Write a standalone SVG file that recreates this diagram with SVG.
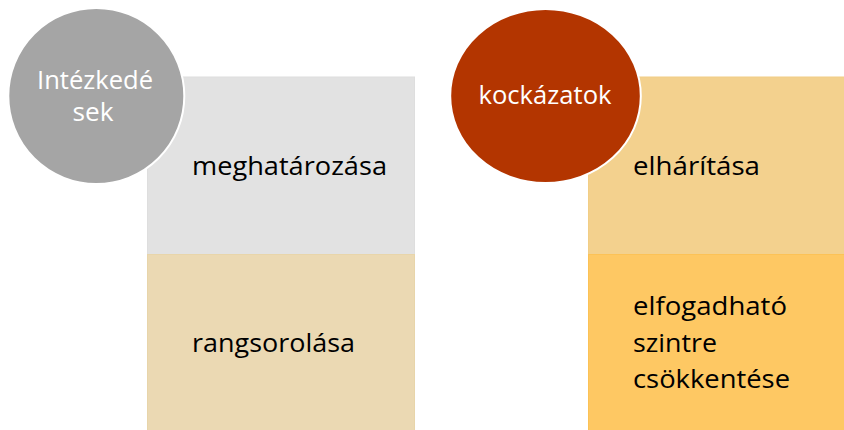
<svg xmlns="http://www.w3.org/2000/svg" width="844" height="430" viewBox="0 0 844 430">
<style>
text{font-family:"Open Sans","Noto Sans","Liberation Sans",sans-serif;font-size:25.5px}
.dark{fill:#000}
.light{fill:#fff}
.circ{stroke:#fff;stroke-width:2}
</style>
<rect width="844" height="430" fill="#fff"/>
<g id="connectors"/>
<g id="box-meghatarozasa">
<rect x="147.5" y="77" width="267" height="177.5" fill="#e2e2e2" stroke="#dedede" stroke-width="1"/>
<text class="dark" x="192" y="175" textLength="195" lengthAdjust="spacingAndGlyphs">meghatározása</text>
</g>
<g id="box-rangsorolasa">
<rect x="147.5" y="254.5" width="267" height="180" fill="#ebd9b3" stroke="#e8d5aa" stroke-width="1"/>
<text class="dark" x="192" y="352" textLength="163" lengthAdjust="spacingAndGlyphs">rangsorolása</text>
</g>
<g id="circle-intezkedesek">
<circle class="circ" cx="96.3" cy="96" r="88" fill="#a5a5a5"/>
<text class="light" x="95" y="88.5" text-anchor="middle" textLength="116" lengthAdjust="spacingAndGlyphs">Intézkedé</text>
<text class="light" x="93" y="120.5" text-anchor="middle" textLength="41" lengthAdjust="spacingAndGlyphs">sek</text>
</g>
<g id="box-elharitasa">
<rect x="588.5" y="77" width="260" height="177.5" fill="#f3d18e" stroke="#f2ce86" stroke-width="1"/>
<text class="dark" x="633" y="175" textLength="127" lengthAdjust="spacingAndGlyphs">elhárítása</text>
</g>
<g id="box-elfogadhato">
<rect x="588.5" y="254.5" width="260" height="180" fill="#fec863" stroke="#fcc256" stroke-width="1"/>
<text class="dark" x="633" y="315" textLength="154" lengthAdjust="spacingAndGlyphs">elfogadható</text>
<text class="dark" x="633" y="351.5" textLength="84" lengthAdjust="spacingAndGlyphs">szintre</text>
<text class="dark" x="633" y="387.5" textLength="157" lengthAdjust="spacingAndGlyphs">csökkentése</text>
</g>
<g id="circle-kockazatok">
<ellipse class="circ" cx="545.5" cy="96" rx="95.3" ry="87" fill="#b33500"/>
<text class="light" x="545" y="104" text-anchor="middle" textLength="133" lengthAdjust="spacingAndGlyphs">kockázatok</text>
</g>
</svg>
